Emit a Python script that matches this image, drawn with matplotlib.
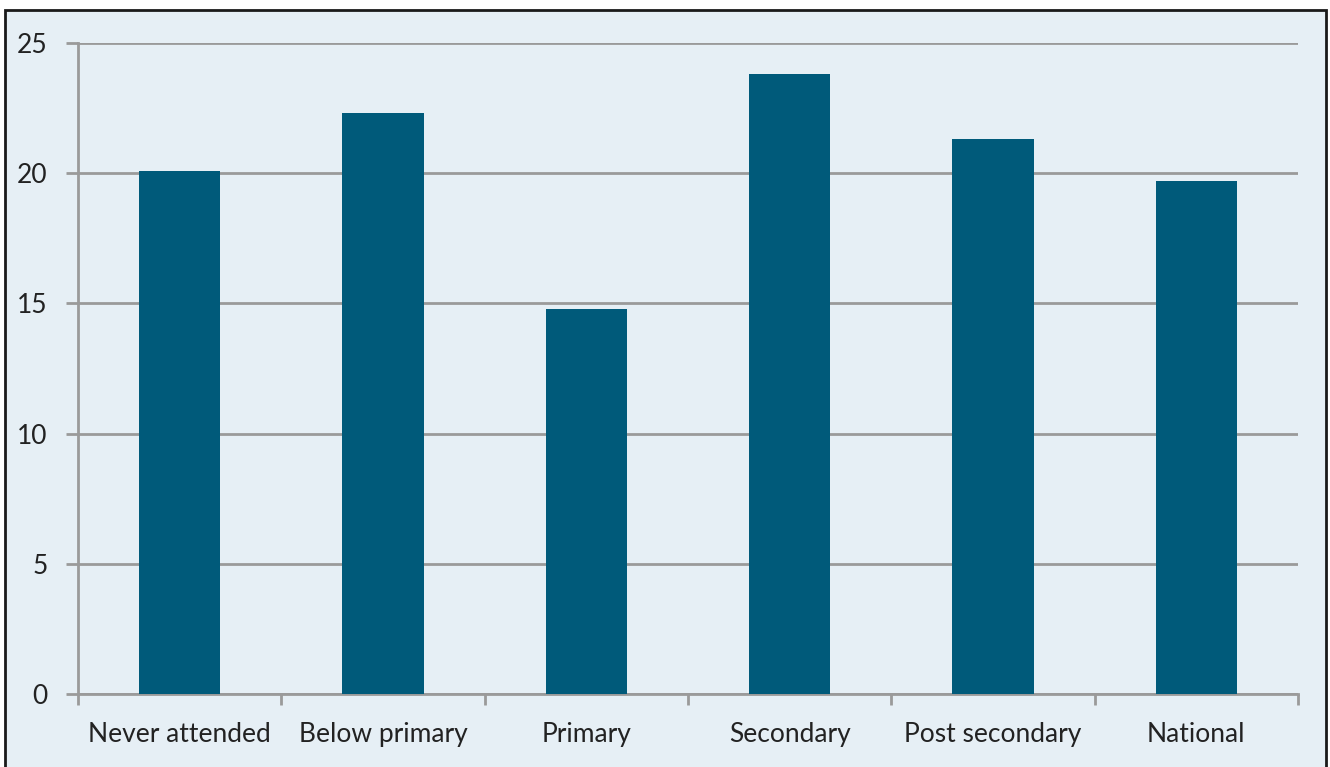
import matplotlib
matplotlib.use("Agg")
import matplotlib.pyplot as plt
from matplotlib.patches import Rectangle
import numpy as np

categories = ["Never attended", "Below primary", "Primary", "Secondary", "Post secondary", "National"]
values = [20.1, 22.3, 14.8, 23.8, 21.3, 19.7]
yticks = [0, 5, 10, 15, 20, 25]

bg = "#e6eff5"
bar_color = "#005a7a"
grid_color = "#9a9a9a"
text_color = "#222222"

plt.rcParams["font.family"] = ["Lato", "DejaVu Sans"]

W, H = 1330, 767
fig = plt.figure(figsize=(W / 100, H / 100), dpi=100, facecolor="white")

# framed panel behind the axes
fig.patches.append(Rectangle((5 / W, -0.05), (1326 - 5) / W, (H - 10) / H + 0.05,
                             transform=fig.transFigure, facecolor=bg,
                             edgecolor="#1a1a1a", linewidth=2, zorder=-10))

ax = fig.add_axes([78 / W, 1 - 694 / H, (1298 - 78) / W, (694 - 43) / H], zorder=1)
ax.set_facecolor("none")

x = np.arange(len(categories))
ax.bar(x, values, width=0.4, color=bar_color, zorder=3)

ax.set_xlim(-0.5, len(categories) - 0.5)
ax.set_ylim(0, 25)
ax.set_yticks(yticks)
ax.set_yticklabels([str(t) for t in yticks], fontsize=19, color=text_color)
ax.yaxis.grid(True, color=grid_color, linewidth=2, zorder=1)
ax.set_axisbelow(True)

ax.set_xticks(x)
ax.set_xticklabels(categories, fontsize=19, color=text_color)
ax.tick_params(axis="x", length=0, pad=20.5)
ax.set_xticks(np.arange(len(categories) + 1) - 0.5, minor=True)
ax.tick_params(axis="x", which="minor", length=8, width=2, color=grid_color)
ax.tick_params(axis="y", length=9, width=2, color=grid_color, pad=13)

for side in ["top", "right"]:
    ax.spines[side].set_visible(False)
for side in ["left", "bottom"]:
    ax.spines[side].set_color(grid_color)
    ax.spines[side].set_linewidth(2)

fig.savefig("out.png", dpi=100, facecolor="white")
